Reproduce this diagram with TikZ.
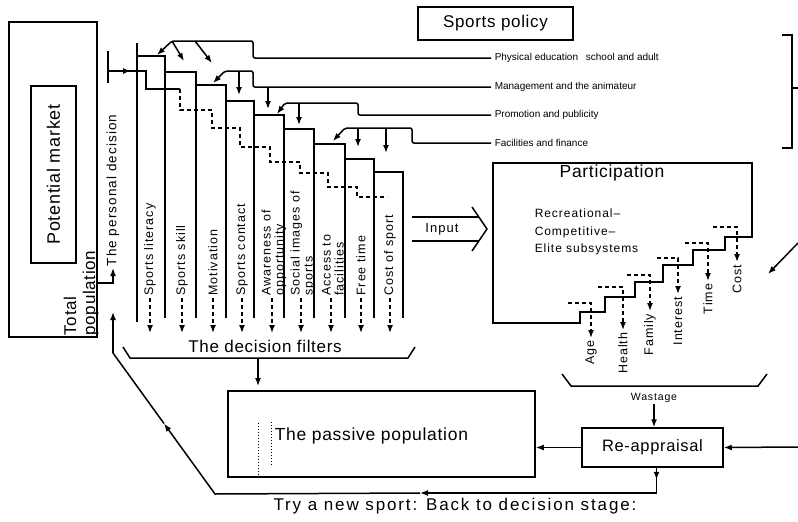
\documentclass[tikz,border=0pt]{standalone}
\usepackage{fontspec}
\setmainfont{Liberation Sans}
\newfontfamily\lsa[LetterSpace=4]{Liberation Sans}
\newfontfamily\lsb[LetterSpace=8]{Liberation Sans}
\newfontfamily\lsc[LetterSpace=11]{Liberation Sans}
\usetikzlibrary{arrows.meta,calc}
\newcommand{\myfs}[2]{\fontsize{#1}{#2}\selectfont}
\begin{document}
\begin{tikzpicture}[x=1pt,y=-1pt,line width=1.5pt,
  arr/.style={-{Latex[length=8pt,width=6pt]}},
  dsh/.style={dash pattern=on 4pt off 3pt},
  dotln/.style={dash pattern=on 1.2pt off 1.8pt,line width=1pt},
  box/.style={draw,inner sep=0pt},
  flbl/.style={rotate=90,anchor=west,align=left,inner sep=1.5pt,font=\lsb\myfs{12.5}{13}},
  wlbl/.style={rotate=90,anchor=east,inner sep=2pt,font=\lsb\myfs{12.5}{13}},
  ptxt/.style={anchor=west,inner sep=3pt,font=\myfs{10}{12}},
  stxt/.style={anchor=west,inner sep=0pt,font=\lsb\myfs{12}{14}}]
\useasboundingbox (0,0) rectangle (798,522);

% total population
\node[box,minimum width=88pt,minimum height=315pt] (tp) at (53,179.5) {};
\node[box,rotate=90,minimum width=177pt,minimum height=45pt,font=\lsa\myfs{18}{20}] (pm) at (53.5,174.5) {Potential market};
\node[rotate=90,anchor=north west,align=left,inner sep=0pt,font=\lsa\myfs{17}{19}] (tot) at (63,336) {Total\\population};

% personal decision
\node[rotate=90,anchor=west,inner sep=1pt,font=\lsb\myfs{13.5}{15}] (pd) at (113,268) {The personal decision};
\coordinate (tpo) at (97,283);
\draw[arr] (tpo) -| (pd.west);
\draw (108,51) -- (108,83);
\draw (108,71) -- (146,71) -- (146,89) -- (180,89);
\draw[arr] (108,71) -- (131,71);
\draw[dsh] (180,89) -- (180,110) -- (212,110) -- (212,128) -- (240,128) -- (240,147) -- (270,147) -- (270,162) -- (300,162) -- (300,173) -- (328,173) -- (328,187) -- (357,187) -- (357,197) -- (387,197);

% filter columns
\draw (137,43) -- (137,322);
\foreach \a/\b/\t in {137/165/56,165/196/72,196/226/85,226/254/101,254/284/115,284/314/129,314/345/144,345/374/159,374/403/172}
  {\draw (\a,\t) -- (\b,\t) -- (\b,318);}

% filter labels
\node[flbl] (f1) at (150,298) {Sports literacy};
\node[flbl] (f2) at (182,298) {Sports skill};
\node[flbl] (f3) at (213,298) {Motivation};
\node[flbl] (f4) at (242,298) {Sports contact};
\node[flbl] (f5) at (274,298) {Awareness of\\opportunity};
\node[flbl] (f6) at (303,298) {Social images of\\sports};
\node[flbl] (f7) at (333,298) {Access to\\facilities};
\node[flbl] (f8) at (361,298) {Free time};
\node[flbl] (f9) at (390,298) {Cost of sport};
\foreach \n in {f1,f2,f3,f4,f8,f9}
  {\draw[arr,dsh] (\n.west) -- ++(0,35);}
\foreach \n in {f5,f6,f7}
  {\draw[arr,dsh] ([xshift=-2pt]\n.west) -- ++(0,35);}

% sports policy
\node[box,minimum width=155pt,minimum height=33pt,font=\lsa\myfs{17}{19}] (sp) at (495.5,23.5) {Sports policy};
\node[ptxt] (pa) at (491,58) {Physical education\hspace{5pt} school and adult};
\node[ptxt] (pb) at (491,87) {Management and the animateur};
\node[ptxt] (pc) at (491,115) {Promotion and publicity};
\node[ptxt] (pf) at (491,143) {Facilities and finance};
\draw[arr,rounded corners=2pt] (pa.west) -- (253,58) -- (253,41) -- (172,41) -- (157,55);
\draw[arr] (172,41) -- (184,61);
\draw[arr] (195,41) -- (212,63);
\draw[arr,rounded corners=2pt] (pb.west) -- (253,87) -- (253,71) -- (225,71) -- (213,83);
\draw[arr] (239,71) -- (239,95);
\draw[arr] (268,87) -- (268,109);
\draw[arr,rounded corners=2pt] (pc.west) -- (358,115) -- (358,103) -- (285,103) -- (277,114);
\draw[arr] (299,103) -- (299,125);
\draw[arr,rounded corners=2pt] (pf.west) -- (412,143) -- (412,128) -- (345,128) -- (333,141);
\draw[arr] (358,128) -- (358,147);
\draw[arr] (386,128) -- (386,153);
\draw (782,35) -- (792,35) -- (792,148) -- (782,148);
\draw (792,88) -- (798,88);

% input
\node[font=\lsb\myfs{13}{15},inner sep=1pt] (inp) at (442,229) {Input};
\draw (412,217) -- (479,217);
\draw (412,241) -- (479,241);
\draw (472,207) -- (487,229) -- (472,251);

% participation
\draw (493,163) -- (752,163) -- (752,237) -- (725,237) -- (725,250) -- (693,250) -- (693,265) -- (663,265) -- (663,282) -- (635,282) -- (635,297) -- (605,297) -- (605,312) -- (580,312) -- (580,323) -- (493,323) -- cycle;
\node[font=\lsa\myfs{17.5}{19},inner sep=1pt] (par) at (612,173) {Participation};
\node[stxt] (rec) at (534,213) {Recreational–};
\node[stxt] (com) at (534,232) {Competitive–};
\node[stxt] (eli) at (534,249) {Elite subsystems};
\foreach \h/\xa/\xb/\tp/\nm/\tx in {303/568/591/338/wa/Age,287/598/623/330/wb/Health,275/627/650/311/wc/Family,258/657/678/294/wd/Interest,243/685/708/281/we/Time,227/713/737/262/wf/Cost}
  {\node[wlbl] (\nm) at (\xb,\tp) {\tx};
   \draw[arr,dsh] (\xa,\h) -| (\nm.east);}
\coordinate (rd) at (798,243);
\draw[arr] (rd) -- (768,274);

% wastage
\draw (562,374) -- (571,386) -- (758,386) -- (767,374);
\node[font=\lsb\myfs{10.5}{12},inner sep=1pt] (wst) at (654,398) {Wastage};
\node[box,minimum width=141pt,minimum height=39pt,font=\lsa\myfs{16.5}{18}] (rea) at (652.5,447.5) {Re-appraisal};
\draw[arr] (wst.south) -- (wst.south |- rea.north);

% decision filters
\node[font=\lsa\myfs{17}{19},inner sep=1pt] (df) at (265,346) {The decision filters};
\draw (123,347) -- (130,358) -- (408,358) -- (415,347);
\coordinate (dfa) at (258,358);
\coordinate (dfb) at (258,386);
\draw[arr] (dfa) -- (dfb);

% passive population
\node[box,minimum width=307pt,minimum height=86pt] (pas) at (381.5,434) {};
\node[anchor=west,inner sep=0pt,font=\lsa\myfs{17.5}{19}] (pastxt) at (274,436) {The passive population};
\draw[dotln] (258,423) -- (258,475);
\draw[dotln] (271,422) -- (271,465);
\draw[arr] (rea.west) -- (rea.west -| pas.east);
\coordinate (rin) at (798,447);
\draw[arr] (rin) -- (rea.east);

% loop back
\coordinate (lpA) at (420,493);
\coordinate (lpB) at (215,494);
\coordinate (lpD) at (113,353);
\coordinate (lpC) at ($(lpB)!0.5!(lpD)$);
\coordinate (pdin) at (113,312);
\draw[arr] ([xshift=4pt]rea.south) -- ++(0,12);
\draw[arr] ([xshift=4pt]rea.south) |- (lpA);
\draw[arr] (lpA) -- (lpB) -- (lpC);
\draw (lpC) -- (lpD);
\draw[arr] (lpD) -- (pdin);
\node[font=\lsc\myfs{17}{19},inner sep=0pt] (try) at (455,506) {Try a new sport: Back to decision stage:};
\end{tikzpicture}
\end{document}
